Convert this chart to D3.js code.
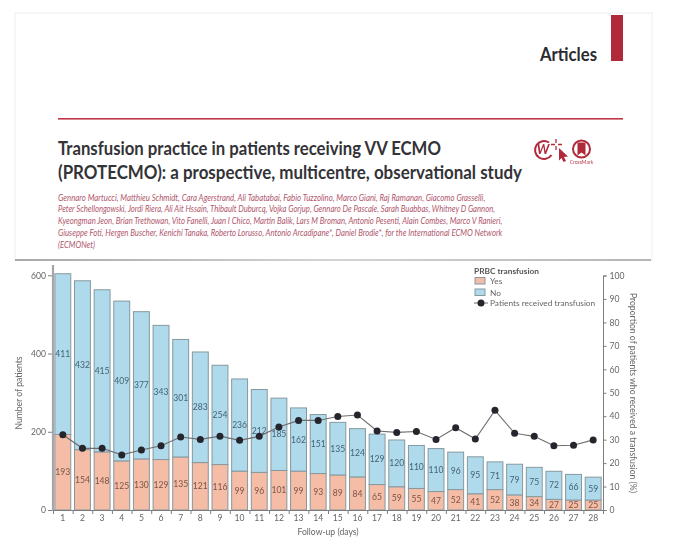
<!DOCTYPE html>
<html>
<head>
<meta charset="utf-8">
<script src="https://cdn.jsdelivr.net/npm/d3@7"></script>
<style>
html,body{margin:0;padding:0;background:#fff}
svg{display:block;filter:blur(0.35px)}
text{font-family:Lato,sans-serif}
</style>
</head>
<body>
<svg id="c" width="680" height="549"></svg>
<script>
const days = d3.range(1, 29).map(String);
const yesCounts = [193,154,148,125,130,129,135,121,116,99,96,101,99,93,89,84,65,59,55,47,52,41,52,38,34,27,25,25];
const noCounts = [411,432,415,409,377,343,301,283,254,236,212,185,162,151,135,124,129,120,110,110,96,95,71,79,75,72,66,59];
const proportion = [32.1,26.3,26.3,23.5,25.6,27.4,31.1,30.1,31.5,29.7,31.4,35.4,38.2,38.2,39.9,40.5,33.7,33.1,33.5,30.1,35.1,30.3,42.5,32.7,31.4,27.4,27.6,29.9];
const leftTicks = [0,200,400,600];
const rightTicks = d3.range(0,101,10);
const titleLines = ["Transfusion practice in patients receiving VV ECMO","(PROTECMO): a prospective, multicentre, observational study"];
const authorLines = [
 "Gennaro Martucci, Matthieu Schmidt, Cara Agerstrand, Ali Tabatabai, Fabio Tuzzolino, Marco Giani, Raj Ramanan, Giacomo Grasselli,",
 "Peter Schellongowski, Jordi Riera, Ali Ait Hssain, Thibault Duburcq, Vojka Gorjup, Gennaro De Pascale, Sarah Buabbas, Whitney D Gannon,",
 "Kyeongman Jeon, Brian Trethowan, Vito Fanelli, Juan I Chico, Martin Balik, Lars M Broman, Antonio Pesenti, Alain Combes, Marco V Ranieri,",
 "Giuseppe Foti, Hergen Buscher, Kenichi Tanaka, Roberto Lorusso, Antonio Arcadipane*, Daniel Brodie*, for the International ECMO Network",
 "(ECMONet)"];
const titleWidths = [383,464];
const authorWidths = [428,438,445,445,37];

const C = {blue:"#aedaeb",pink:"#f5bca6",edge:"#87999f",axis:"#7d7d7d",txt:"#666",red:"#b12a3a",dot:"#25252e"};
const svg = d3.select("#c");

// squeeze a text to a given width with a horizontal scale, anchored at its left end
function fit(sel, xs, ys, widths){
  sel.each(function(d,i){
    const k = widths[i]/this.getComputedTextLength();
    d3.select(this).attr("transform",`translate(${xs},${ys(i)}) scale(${k},1)`);
  });
}

// header card
svg.append("rect").attr("x",15).attr("y",13).attr("width",637).attr("height",247).attr("fill","#fff").attr("stroke","#eeeeee");
svg.append("rect").attr("x",611).attr("y",15).attr("width",12).attr("height",46).attr("fill",C.red);
svg.append("text").datum("Articles").attr("font-size",19).attr("font-weight",700).attr("fill","#2b2b30").text(d=>d)
  .call(fit,540,()=>61,[57]);
svg.append("rect").attr("x",58).attr("y",118).attr("width",565).attr("height",1.6).attr("fill","#c0374a");

svg.selectAll("text.t").data(titleLines).join("text").attr("class","t")
  .attr("font-size",19.5).attr("font-weight",700).attr("fill","#333338").text(d=>d)
  .call(fit,58,i=>155+i*23.5,titleWidths);
svg.selectAll("text.a").data(authorLines).join("text").attr("class","a")
  .attr("font-size",9.5).attr("font-style","italic").attr("fill","#b0566c").text(d=>d)
  .call(fit,58,i=>200.5+i*11.9,authorWidths);

// header icons
const ic = svg.append("g").attr("fill","none").attr("stroke",C.red);
ic.append("path").attr("stroke-width",2).attr("d","M549 142.5 A9 9 0 1 0 551.5 155");
svg.append("text").attr("x",543).attr("y",153.5).attr("text-anchor","middle").attr("font-size",13).attr("font-weight",700).attr("font-style","italic").attr("fill",C.red).text("W");
ic.append("path").attr("stroke-width",1.3).attr("d","M556 139v4M556 146v4M551 144.5h4M558 144.5h4");
svg.append("path").attr("fill",C.red).attr("d","M559 148l9 8.5-4 .5 2 4-2.5 1-2-4-2.5 2.500z");
ic.append("circle").attr("cx",581.5).attr("cy",149).attr("r",8.5).attr("stroke-width",2);
svg.append("path").attr("fill",C.red).attr("d","M577.500 142.500h8v13l-4-3-4 3z");
svg.append("text").attr("x",581.500).attr("y",164).attr("text-anchor","middle").attr("font-size",5).attr("fill","#c04050").text("CrossMark");

// separator
const grad = svg.append("defs").append("linearGradient").attr("id","sep");
grad.append("stop").attr("offset","0").attr("stop-color","#a8a8a8");
grad.append("stop").attr("offset","0.5").attr("stop-color","#d4d4d4");
grad.append("stop").attr("offset","1").attr("stop-color","#b5b5b5");
svg.append("rect").attr("x",15).attr("y",259).attr("width",636).attr("height",2).attr("fill","url(#sep)");

// scales
const x = d3.scaleBand().domain(days).range([53,603]).paddingInner(0.19).paddingOuter(0.095);
const y = d3.scaleLinear().domain([0,600]).range([510,275.3]);
const yR = d3.scaleLinear().domain([0,100]).range([510,275.5]);
const xEdges = d3.scaleLinear().domain([0,28]).range([53,603]);

// bars
const rows = days.map((d,i)=>({d,yes:yesCounts[i],no:noCounts[i],p:proportion[i]}));
const g = svg.append("g");
g.selectAll("rect.no").data(rows).join("rect").attr("class","no")
  .attr("x",d=>x(d.d)).attr("width",x.bandwidth()).attr("y",d=>y(d.yes+d.no)).attr("height",d=>y(d.yes)-y(d.yes+d.no))
  .attr("fill",C.blue).attr("stroke",C.edge).attr("stroke-width",1);
g.selectAll("rect.yes").data(rows).join("rect").attr("class","yes")
  .attr("x",d=>x(d.d)).attr("width",x.bandwidth()).attr("y",d=>y(d.yes)).attr("height",d=>y(0)-y(d.yes))
  .attr("fill",C.pink).attr("stroke",C.edge).attr("stroke-width",1);
g.selectAll("text.nl").data(rows).join("text").attr("class","nl")
  .attr("x",d=>x(d.d)+x.bandwidth()/2).attr("y",d=>y(d.yes+d.no/2)+3).attr("text-anchor","middle")
  .attr("font-size",8.6).attr("fill","#466272").text(d=>d.no);
g.selectAll("text.yl").data(rows).join("text").attr("class","yl")
  .attr("x",d=>x(d.d)+x.bandwidth()/2).attr("y",d=>y(d.yes/2)+3).attr("text-anchor","middle")
  .attr("font-size",8.6).attr("fill","#7a5548").text(d=>d.yes);

// line
const cx = d=>x(d.d)+x.bandwidth()/2;
svg.append("path").datum(rows).attr("fill","none").attr("stroke","#6e6e6e").attr("stroke-width",1.1)
  .attr("d",d3.line().x(cx).y(d=>yR(d.p)));
svg.selectAll("circle.pt").data(rows).join("circle").attr("class","pt")
  .attr("cx",cx).attr("cy",d=>yR(d.p)).attr("r",3.5).attr("fill",C.dot);

// axes
function style(sel){
  sel.selectAll("text").attr("fill",C.txt).attr("font-size",8.6);
  sel.selectAll("line").attr("stroke",C.axis);
}
const aL = svg.append("g").attr("transform","translate(53,0)")
  .call(d3.axisLeft(y).tickValues(leftTicks).tickSize(5).tickPadding(2)).call(style);
aL.select(".domain").remove();
svg.append("line").attr("x1",53).attr("x2",53).attr("y1",265).attr("y2",511).attr("stroke","#a6a6a6").attr("stroke-width",2.2);
const aR = svg.append("g").attr("transform","translate(603,0)")
  .call(d3.axisRight(yR).tickValues(rightTicks).tickSize(3.5).tickPadding(3)).call(style);
aR.select(".domain").attr("stroke",C.axis).attr("stroke-width",1);
const aT = svg.append("g").attr("transform","translate(0,510)")
  .call(d3.axisBottom(xEdges).tickValues(d3.range(0,29)).tickSize(4).tickFormat("")).call(style);
aT.select(".domain").attr("stroke",C.axis).attr("stroke-width",1);
const aX = svg.append("g").attr("transform","translate(0,510)")
  .call(d3.axisBottom(x).tickSize(0).tickPadding(5)).call(style);
aX.select(".domain").remove();

// axis titles
svg.append("text").attr("transform","translate(22,393) rotate(-90)").attr("text-anchor","middle").attr("font-size",8.6).attr("fill",C.txt).text("Number of patients");
svg.append("text").attr("transform","translate(630,393) rotate(90)").attr("text-anchor","middle").attr("font-size",8.6).attr("fill",C.txt).text("Proportion of patients who received a transfusion (%)");
svg.append("text").attr("x",328).attr("y",535).attr("text-anchor","middle").attr("font-size",8.6).attr("fill",C.txt).text("Follow-up (days)");

// legend
svg.append("text").attr("x",474).attr("y",274).attr("font-size",8.3).attr("font-weight",700).attr("fill","#555").text("PRBC transfusion");
svg.append("rect").attr("x",475).attr("y",277.5).attr("width",10).attr("height",6.5).attr("fill",C.pink).attr("stroke",C.edge);
svg.append("text").attr("x",490).attr("y",283.5).attr("font-size",8.3).attr("fill",C.txt).text("Yes");
svg.append("rect").attr("x",475).attr("y",289).attr("width",10).attr("height",6.5).attr("fill",C.blue).attr("stroke",C.edge);
svg.append("text").attr("x",490).attr("y",295.5).attr("font-size",8.3).attr("fill",C.txt).text("No");
svg.append("line").attr("x1",474).attr("x2",488).attr("y1",303).attr("y2",303).attr("stroke","#6e6e6e");
svg.append("circle").attr("cx",481).attr("cy",303).attr("r",3.5).attr("fill",C.dot);
svg.append("text").attr("x",490).attr("y",306).attr("font-size",8.3).attr("fill",C.txt).text("Patients received transfusion");
</script>
</body>
</html>
